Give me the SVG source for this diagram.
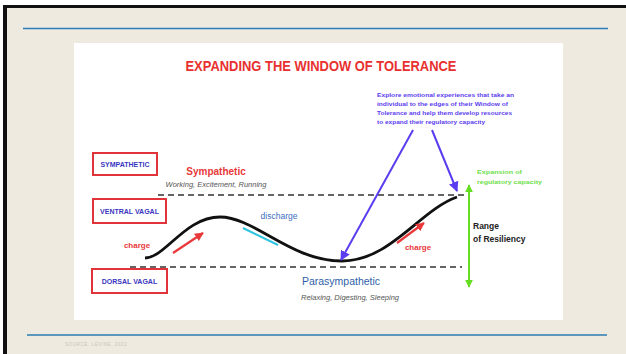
<svg xmlns="http://www.w3.org/2000/svg" width="626" height="354" viewBox="0 0 626 354">
<defs>
<style>
.t{font-family:"Liberation Sans",Arial,sans-serif}
.box{fill:#fff;stroke:#E0333A;stroke-width:2}
.boxt{font-family:"Liberation Sans",Arial,sans-serif;font-size:7px;font-weight:bold;fill:#3A36C0;text-anchor:middle}
.dash{stroke:#333;stroke-width:1.6;stroke-dasharray:6 4;fill:none}
.purple{stroke:#5B3CF0;stroke-width:2;fill:none}
.red{stroke:#E8383A;stroke-width:2.2;fill:none}
.sub{font-family:"Liberation Sans",Arial,sans-serif;font-size:7.5px;font-style:italic;fill:#555;text-anchor:middle}
.ann{font-family:"Liberation Sans",Arial,sans-serif;font-size:6.2px;font-weight:bold;fill:#5B3CF0}
.grn{font-family:"Liberation Sans",Arial,sans-serif;font-size:6px;font-weight:bold;fill:#6EE04A}
</style>
<marker id="ap" viewBox="0 0 10 10" refX="9" refY="5" markerWidth="5" markerHeight="5" orient="auto"><path d="M0,0 L10,5 L0,10 z" fill="#5B3CF0"/></marker>
<marker id="ar" viewBox="0 0 10 10" refX="9" refY="5" markerWidth="4" markerHeight="4" orient="auto"><path d="M0,0 L10,5 L0,10 z" fill="#E8383A"/></marker>
<marker id="ag" viewBox="0 0 10 10" refX="9" refY="5" markerWidth="4" markerHeight="4" orient="auto-start-reverse"><path d="M0,0 L10,5 L0,10 z" fill="#66DD22"/></marker>
</defs>
<rect x="0" y="0" width="626" height="354" fill="#fff"/>
<rect x="3" y="5" width="623" height="349" fill="#111"/>
<rect x="7" y="8" width="619" height="346" fill="#EFEAE0"/>
<line x1="23" y1="28.5" x2="608" y2="28.5" stroke="#2A7DB8" stroke-width="1.5"/>
<line x1="27" y1="335" x2="607" y2="335" stroke="#2A7AB0" stroke-width="1.5"/>
<text class="t" x="65" y="345.5" font-size="4.5" fill="#C9C4BC" letter-spacing="0.6">SOURCE: LEVINE, 2022</text>
<rect x="74" y="43" width="489" height="277" fill="#fff"/>
<text class="t" x="321" y="71" font-size="14" font-weight="bold" fill="#E8312F" text-anchor="middle" textLength="271" lengthAdjust="spacingAndGlyphs">EXPANDING THE WINDOW OF TOLERANCE</text>
<g id="annotation">
<text class="ann" x="377" y="97" textLength="137" lengthAdjust="spacingAndGlyphs">Explore emotional experiences that take an</text>
<text class="ann" x="377" y="106" textLength="131" lengthAdjust="spacingAndGlyphs">individual to the edges of their Window of</text>
<text class="ann" x="377" y="115" textLength="135" lengthAdjust="spacingAndGlyphs">Tolerance and help them develop resources</text>
<text class="ann" x="377" y="124" textLength="108" lengthAdjust="spacingAndGlyphs">to expand their regulatory capacity</text>
</g>
<g id="box-sympathetic"><rect class="box" x="93" y="153" width="64" height="22"/><text class="boxt" x="125" y="167">SYMPATHETIC</text></g>
<g id="box-ventral"><rect class="box" x="93" y="199" width="73" height="24"/><text class="boxt" x="129.5" y="213.5">VENTRAL VAGAL</text></g>
<g id="box-dorsal"><rect class="box" x="92" y="269" width="75" height="24"/><text class="boxt" x="129.5" y="283.5">DORSAL VAGAL</text></g>
<g id="labels">
<text class="t" x="216" y="175" font-size="10" font-weight="bold" fill="#E8383A" text-anchor="middle">Sympathetic</text>
<text class="sub" x="216" y="186.5">Working, Excitement, Running</text>
<text class="t" x="341" y="285" font-size="10.5" fill="#2E5FA8" text-anchor="middle">Parasympathetic</text>
<text class="sub" x="350" y="300">Relaxing, Digesting, Sleeping</text>
<text class="t" x="137" y="248" font-size="8" font-weight="bold" fill="#E8383A" text-anchor="middle">charge</text>
<text class="t" x="418" y="250" font-size="8" font-weight="bold" fill="#E8383A" text-anchor="middle">charge</text>
<text class="t" x="279" y="219" font-size="8.5" fill="#3E6FC0" text-anchor="middle">discharge</text>
<text class="grn" x="477" y="174" textLength="45" lengthAdjust="spacingAndGlyphs">Expansion of</text>
<text class="grn" x="477" y="184" textLength="65" lengthAdjust="spacingAndGlyphs">regulatory capacity</text>
<text class="t" x="473" y="229" font-size="8.5" font-weight="bold" fill="#222">Range</text>
<text class="t" x="473" y="242" font-size="8.5" font-weight="bold" fill="#222">of Resiliency</text>
</g>
<g id="connectors">
<line class="dash" x1="158" y1="195" x2="470" y2="195"/>
<line class="dash" x1="130" y1="267" x2="462" y2="267"/>
<path d="M145,258 C165,258 185,217 220,217 C255,217 290,261 342,261 C390,261 420,210 457,197" fill="none" stroke="#111" stroke-width="2.8"/>
<line class="red" x1="173" y1="253" x2="203" y2="233" marker-end="url(#ar)"/>
<line class="red" x1="397" y1="243" x2="424" y2="223" marker-end="url(#ar)"/>
<line x1="243" y1="228" x2="278" y2="245" stroke="#2EC4E0" stroke-width="2"/>
<line class="purple" x1="413" y1="130" x2="341" y2="260" marker-end="url(#ap)"/>
<line class="purple" x1="432" y1="130" x2="457" y2="191" marker-end="url(#ap)"/>
<line x1="469" y1="185" x2="469" y2="287" stroke="#66DD22" stroke-width="2" marker-start="url(#ag)" marker-end="url(#ag)"/>
</g>
</svg>
